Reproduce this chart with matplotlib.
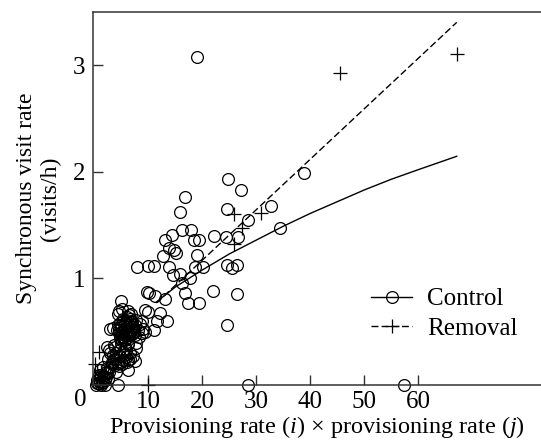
import matplotlib.pyplot as plt
import matplotlib.lines as mlines

plt.rcParams['font.family'] = ['Liberation Serif', 'DejaVu Serif']
plt.rcParams['mathtext.fontset'] = 'custom'
plt.rcParams['mathtext.it'] = 'Liberation Serif:italic'
plt.rcParams['mathtext.rm'] = 'Liberation Serif'

# control pairs (circles)
control_x = [19.0, 38.8, 24.7, 27.1, 16.85, 15.8, 24.5, 32.8, 28.4, 34.4,
             16.2, 17.9, 14.3, 22.2, 24.4, 26.6, 13.1, 18.5, 19.3, 13.85,
             14.7, 15.1, 19.1, 12.7, 18.6, 20.2, 7.9, 9.9, 11.0, 13.85,
             14.5, 15.8, 24.6, 25.5, 26.5, 16.3, 17.8, 22.0, 26.4, 16.85,
             17.4, 19.3, 9.7, 10.1, 11.3, 13.1, 24.5, 13.5, 11.6, 11.0,
             12.1, 10.0, 9.4, 28.5, 57.4, 4.3,
             # dense cluster
             4.9, 4.6, 5.2, 6.2, 6.8, 3.0, 3.5, 4.6, 5.5, 4.9,
             6.2, 7.5, 8.1, 9.1, 6.8, 7.8, 5.9, 4.3, 2.35, 3.0,
             3.6, 4.9, 6.2, 7.1, 7.8, 5.5, 4.3, 1.7, 1.1, 0.45,
             1.4, 1.7, 2.35, 3.0, 3.95, 6.2, 2.0, 0.75, 5.0, 5.6,
             6.0, 6.5, 7.0, 7.3, 5.2, 5.8, 6.4, 4.8, 5.4, 6.0,
             6.6, 7.2, 8.5, 8.8, 4.2, 3.8, 2.8, 2.5, 3.2, 4.0,
             4.6, 5.3, 5.9, 6.6, 7.5, 1.0, 1.3, 2.0, 2.4, 0.5,
             0.9, 1.6, 2.2, 2.7, 3.3, 1.2, 0.4, 5.7, 6.3, 7.7,
             8.2, 9.3, 8.9, 4.4, 3.6,
             5.1, 5.5, 6.1, 6.7, 7.1, 7.6, 5.3, 5.9, 6.4, 7.0,
             4.7, 5.0, 5.6, 6.2, 6.9, 4.5, 4.9, 5.4, 6.0, 6.5,
             3.4, 4.1, 4.7, 5.3, 6.0, 6.7, 3.8, 4.5, 5.1, 5.8,
             1.8, 2.1, 1.5, 2.6, 0.8, 1.1]
control_y = [3.08, 1.99, 1.93, 1.83, 1.76, 1.62, 1.65, 1.68, 1.545, 1.47,
             1.45, 1.45, 1.41, 1.40, 1.39, 1.39, 1.36, 1.36, 1.36, 1.285,
             1.27, 1.24, 1.22, 1.21, 1.11, 1.11, 1.11, 1.12, 1.12, 1.11,
             1.03, 1.04, 1.13, 1.10, 1.13, 0.96, 1.00, 0.88, 0.85, 0.86,
             0.775, 0.775, 0.875, 0.86, 0.84, 0.81, 0.565, 0.60, 0.60, 0.52,
             0.675, 0.69, 0.705, 0.0, 0.0, 0.0,
             0.79, 0.70, 0.71, 0.70, 0.67, 0.53, 0.54, 0.49, 0.45, 0.42,
             0.39, 0.47, 0.52, 0.53, 0.60, 0.61, 0.60, 0.565, 0.36, 0.30,
             0.25, 0.22, 0.24, 0.27, 0.35, 0.28, 0.205, 0.17, 0.14, 0.05,
             0.02, 0.064, 0.11, 0.17, 0.127, 0.14, 0.0, 0.02, 0.55, 0.58,
             0.52, 0.56, 0.59, 0.50, 0.48, 0.51, 0.47, 0.58, 0.62, 0.57,
             0.62, 0.55, 0.57, 0.49, 0.52, 0.36, 0.33, 0.25, 0.20, 0.30,
             0.33, 0.31, 0.26, 0.30, 0.23, 0.08, 0.10, 0.05, 0.16, 0.02,
             0.10, 0.03, 0.08, 0.12, 0.22, 0.0, 0.0, 0.43, 0.40, 0.40,
             0.45, 0.50, 0.60, 0.67, 0.38,
             0.50, 0.53, 0.55, 0.58, 0.55, 0.56, 0.45, 0.47, 0.50, 0.52,
             0.44, 0.40, 0.42, 0.45, 0.48, 0.52, 0.56, 0.60, 0.64, 0.66,
             0.28, 0.25, 0.27, 0.24, 0.22, 0.25, 0.19, 0.18, 0.20, 0.33,
             0.08, 0.12, 0.04, 0.06, 0.06, 0.03]

# removal pairs (plus)
removal_x = [67.1, 45.5, 25.8, 30.8, 27.3, 25.8, 10.0, 0.1, 0.8, 1.3]
removal_y = [3.10, 2.93, 1.60, 1.61, 1.47, 1.32, 0.0, 0.20, 0.31, 0.12]

# fitted lines
fit_control_x = [11.5, 15, 20, 25, 30, 35, 40, 45, 50, 55, 60, 67.1]
fit_control_y = [0.78, 0.92, 1.08, 1.23, 1.36, 1.49, 1.61, 1.72, 1.83, 1.93, 2.02, 2.145]
fit_removal_x = [11.5, 67.1]
fit_removal_y = [0.77, 3.40]

fig = plt.figure(figsize=(5.41, 4.46), dpi=100)
ax = fig.add_axes([0.171, 0.1363, 0.829, 0.8375])

ax.plot(fit_control_x, fit_control_y, color='black', lw=1.0)
ax.plot(fit_removal_x, fit_removal_y, color='black', lw=1.0, ls=(0, (5, 2.3)))
ax.plot(control_x, control_y, 'o', mfc='none', mec='black', ms=8.5, mew=0.9,
        clip_on=False, ls='none')
ax.plot(removal_x, removal_y, '+', color='black', ms=10, mew=0.9,
        clip_on=False, ls='none')

ax.set_xlim(-0.33, 82.7)
ax.set_ylim(0, 3.5)
ax.spines['right'].set_visible(False)
for s in ['left', 'bottom', 'top']:
    ax.spines[s].set_linewidth(1.1)
    ax.spines[s].set_color('#333333')

ax.set_xticks([10, 20, 30, 40, 50, 60])
ax.set_yticks([1, 2, 3])
ax.tick_params(direction='in', length=7, width=1.0, labelsize=18, color='#333333')
ax.tick_params(axis='x', pad=4)
ax.tick_params(axis='y', pad=5)
ax.text(-0.027, -0.04, '0', transform=ax.transAxes, fontsize=18,
        ha='center', va='center')

ax.set_xlabel(r'Provisioning rate ($i$) × provisioning rate ($j$)', fontsize=17.5, labelpad=1)
ax.set_ylabel('Synchronous visit rate\n(visits/h)', fontsize=17, labelpad=9,
              linespacing=1.15)

h1 = mlines.Line2D([], [], color='black', lw=1.0, marker='o', mfc='none', ms=8.5, mew=0.9)
h2 = mlines.Line2D([], [], color='black', lw=1.0, ls=(0, (5, 2.3)), marker='+', ms=10, mew=0.9)
ax.legend([h1, h2], ['Control', 'Removal'], loc='center left',
          bbox_to_anchor=(0.621, 0.191), frameon=False, fontsize=18,
          handlelength=1.64, handletextpad=0.6, labelspacing=0.28,
          borderpad=0, borderaxespad=0)

fig.savefig('out.png', dpi=100)
